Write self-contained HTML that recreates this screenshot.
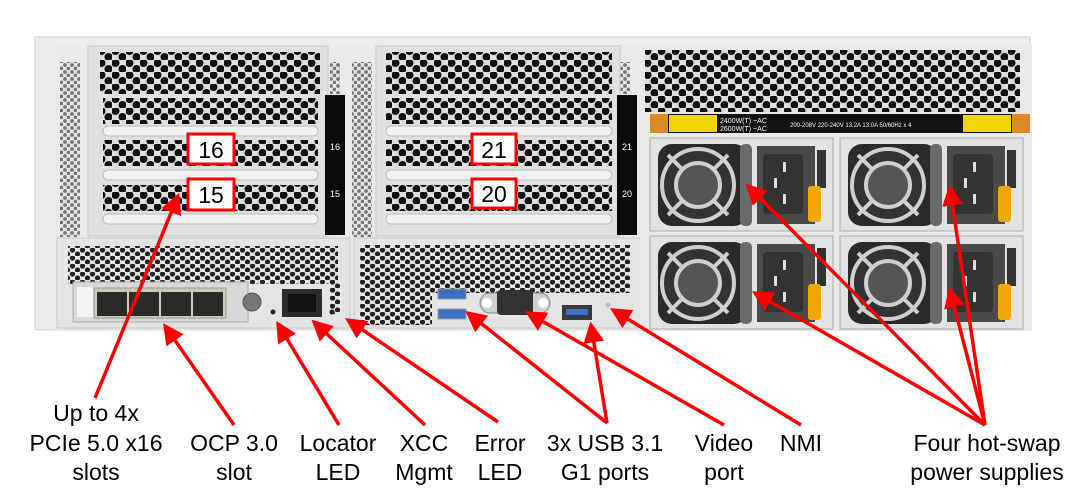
<!DOCTYPE html>
<html><head><meta charset="utf-8"><style>
html,body{margin:0;padding:0;background:#fff;width:1092px;height:504px;overflow:hidden}
svg{display:block}
text{font-family:"Liberation Sans",Arial,sans-serif}
</style></head><body>
<svg width="1092" height="504" viewBox="0 0 1092 504" xmlns="http://www.w3.org/2000/svg">
<defs>
<pattern id="hex" width="14" height="12" patternUnits="userSpaceOnUse">
<rect width="14" height="12" fill="#dedede"/>
<circle cx="3.5" cy="3" r="4" fill="#111"/><circle cx="10.5" cy="9" r="4" fill="#111"/>
</pattern>
<pattern id="hexs" width="10" height="8" patternUnits="userSpaceOnUse">
<rect width="10" height="8" fill="#e4e4e4"/>
<circle cx="2.5" cy="2" r="2.6" fill="#222"/><circle cx="7.5" cy="6" r="2.6" fill="#222"/>
</pattern>
<pattern id="col" width="7" height="7" patternUnits="userSpaceOnUse">
<rect width="7" height="7" fill="#e6e6e6"/>
<circle cx="2" cy="2" r="1.9" fill="#777"/><circle cx="5.5" cy="5.5" r="1.9" fill="#777"/>
</pattern>
<marker id="ah" markerWidth="6" markerHeight="6" refX="5" refY="3" orient="auto" markerUnits="strokeWidth">
<path d="M0,0 L6,3 L0,6 z" fill="#f00"/>
</marker>
<g id="psu">
<rect x="0" y="0" width="183" height="93" fill="#e2e2e2" stroke="#aaa"/>
<rect x="8" y="6" width="90" height="82" rx="14" fill="#2a2a2a"/>
<circle cx="48" cy="47" r="36" fill="#333" stroke="#cfcfcf" stroke-width="4"/>
<line x1="18" y1="17" x2="78" y2="77" stroke="#cfcfcf" stroke-width="4"/>
<line x1="78" y1="17" x2="18" y2="77" stroke="#cfcfcf" stroke-width="4"/>
<circle cx="48" cy="47" r="22" fill="#555" stroke="#cfcfcf" stroke-width="4"/>
<rect x="90" y="6" width="12" height="82" rx="5" fill="#6a6a6a"/>
<rect x="107" y="8" width="58" height="78" fill="#4a4a4a"/>
<rect x="113" y="16" width="40" height="60" rx="4" fill="#333"/>
<rect x="133" y="24" width="3" height="10" fill="#ddd"/><rect x="124" y="40" width="3" height="10" fill="#ddd"/><rect x="133" y="56" width="3" height="10" fill="#ddd"/>
<rect x="167" y="12" width="9" height="38" fill="#333"/>
<rect x="158" y="48" width="13" height="36" rx="3" fill="#f0a800"/>
</g>
</defs>

<rect x="35" y="37" width="995" height="293" fill="#ececec" stroke="#d0d0d0"/>
<rect x="55" y="45" width="975" height="285" fill="#e9e9e9"/>
<rect x="60" y="62" width="20" height="175" fill="url(#col)"/>
<rect x="352" y="62" width="20" height="175" fill="url(#col)"/>
<rect x="330" y="62" width="10" height="32" fill="url(#col)"/>
<rect x="620" y="62" width="10" height="32" fill="url(#col)"/>

<rect x="88" y="46" width="240" height="190" fill="#e0e0e0" stroke="#c8c8c8"/>
<rect x="100" y="52" width="220" height="42" fill="url(#hex)"/>
<rect x="103" y="98" width="215" height="26" fill="url(#hex)"/>
<rect x="103" y="140" width="215" height="26" fill="url(#hex)"/>
<rect x="103" y="185" width="215" height="26" fill="url(#hex)"/>
<rect x="103" y="126" width="215" height="10" rx="5" fill="#f2f2f2" stroke="#bbb"/>
<rect x="103" y="170" width="215" height="10" rx="5" fill="#f2f2f2" stroke="#bbb"/>
<rect x="103" y="214" width="215" height="10" rx="5" fill="#f2f2f2" stroke="#bbb"/>
<rect x="325" y="95" width="20" height="140" fill="#0a0a0a"/>
<text x="335" y="150" font-size="9" fill="#fff" text-anchor="middle">16</text>
<text x="335" y="197" font-size="9" fill="#fff" text-anchor="middle">15</text>

<rect x="376" y="46" width="244" height="190" fill="#e0e0e0" stroke="#c8c8c8"/>
<rect x="386" y="52" width="226" height="42" fill="url(#hex)"/>
<rect x="386" y="98" width="226" height="26" fill="url(#hex)"/>
<rect x="386" y="140" width="226" height="26" fill="url(#hex)"/>
<rect x="386" y="185" width="226" height="26" fill="url(#hex)"/>
<rect x="386" y="126" width="226" height="10" rx="5" fill="#f2f2f2" stroke="#bbb"/>
<rect x="386" y="170" width="226" height="10" rx="5" fill="#f2f2f2" stroke="#bbb"/>
<rect x="386" y="214" width="226" height="10" rx="5" fill="#f2f2f2" stroke="#bbb"/>
<rect x="617" y="95" width="20" height="140" fill="#0a0a0a"/>
<text x="627" y="150" font-size="9" fill="#fff" text-anchor="middle">21</text>
<text x="627" y="197" font-size="9" fill="#fff" text-anchor="middle">20</text>

<g font-size="23" text-anchor="middle" fill="#000">
<rect x="188" y="134" width="46" height="30" fill="#fff" stroke="#f00" stroke-width="3"/><text x="211" y="158">16</text>
<rect x="188" y="179" width="46" height="31" fill="#fff" stroke="#f00" stroke-width="3"/><text x="211" y="203">15</text>
<rect x="472" y="134" width="44" height="30" fill="#fff" stroke="#f00" stroke-width="3"/><text x="494" y="158">21</text>
<rect x="472" y="179" width="44" height="29" fill="#fff" stroke="#f00" stroke-width="3"/><text x="494" y="202">20</text>
</g>

<rect x="57" y="238" width="293" height="90" fill="#e4e4e4" stroke="#c8c8c8"/>
<rect x="68" y="246" width="270" height="38" fill="url(#hexs)"/>
<rect x="330" y="284" width="10" height="30" fill="url(#hexs)"/>
<rect x="73" y="282" width="175" height="40" fill="#d8d8d8" stroke="#aaa"/>
<rect x="77" y="287" width="16" height="30" fill="#f4f4f4"/>
<rect x="94" y="288" width="132" height="30" fill="#cfc9b8" stroke="#999"/>
<rect x="97" y="292" width="30" height="24" fill="#2b2b2b"/><rect x="129" y="292" width="30" height="24" fill="#2b2b2b"/>
<rect x="161" y="292" width="30" height="24" fill="#2b2b2b"/><rect x="193" y="292" width="30" height="24" fill="#2b2b2b"/>
<circle cx="252" cy="302" r="9" fill="#777" stroke="#555"/>
<rect x="282" y="289" width="40" height="28" fill="#2c2c2c"/>
<rect x="288" y="294" width="28" height="18" fill="#111"/>
<circle cx="273" cy="312" r="2.5" fill="#222"/><circle cx="332" cy="312" r="2.5" fill="#222"/>

<rect x="354" y="238" width="290" height="90" fill="#e4e4e4" stroke="#c8c8c8"/>
<rect x="360" y="245" width="270" height="48" fill="url(#hexs)"/>
<rect x="360" y="293" width="72" height="32" fill="url(#hexs)"/>
<rect x="438" y="289" width="28" height="10" fill="#3d6fc6" stroke="#999"/>
<rect x="438" y="309" width="28" height="10" fill="#3d6fc6" stroke="#999"/>
<rect x="480" y="293" width="70" height="20" rx="10" fill="#d0d0d0" stroke="#888"/>
<circle cx="487" cy="303" r="5" fill="#fff"/><circle cx="543" cy="303" r="5" fill="#fff"/>
<rect x="497" y="290" width="36" height="25" rx="4" fill="#333"/>
<rect x="562" y="305" width="30" height="15" fill="#3a3a3a"/><rect x="566" y="309" width="22" height="6" fill="#3d6fc6"/>
<circle cx="608" cy="305" r="2.5" fill="#bbb"/>

<rect x="640" y="45" width="392" height="285" fill="#e9e9e9"/>
<rect x="645" y="50" width="375" height="62" fill="url(#hex)"/>
<rect x="650" y="114" width="380" height="19" fill="#111"/>
<rect x="650" y="114" width="18" height="19" fill="#d98a2a"/><rect x="1012" y="114" width="18" height="19" fill="#d98a2a"/>
<rect x="669" y="115" width="48" height="17" fill="#f3d400"/><rect x="963" y="115" width="48" height="17" fill="#f3d400"/>
<text x="720" y="123" font-size="7" fill="#fff">2400W(T) ~AC</text>
<text x="720" y="131" font-size="7" fill="#fff">2600W(T) ~AC</text>
<text x="790" y="127" font-size="6" fill="#fff">200-208V 220-240V   13.2A 13.0A   50/60Hz  x 4</text>
<use href="#psu" x="650" y="138"/>
<use href="#psu" x="840" y="138"/>
<use href="#psu" x="650" y="236"/>
<use href="#psu" x="840" y="236"/>

<g stroke="#f00" stroke-width="3.5" fill="none" marker-end="url(#ah)">
<line x1="95" y1="398" x2="178" y2="196"/>
<line x1="234" y1="425" x2="165" y2="326"/>
<line x1="339" y1="425" x2="278" y2="324"/>
<line x1="425" y1="425" x2="314" y2="322"/>
<line x1="498" y1="422" x2="348" y2="320"/>
<line x1="607" y1="423" x2="468" y2="313"/>
<line x1="607" y1="423" x2="591" y2="325"/>
<line x1="724" y1="425" x2="528" y2="313"/>
<line x1="801" y1="425" x2="613" y2="310"/>
<line x1="985" y1="425" x2="748" y2="186"/>
<line x1="985" y1="425" x2="950" y2="188"/>
<line x1="985" y1="425" x2="755" y2="293"/>
<line x1="985" y1="425" x2="950" y2="290"/>
</g>

<g font-size="23" text-anchor="middle" fill="#000">
<text x="96" y="421">Up to 4x</text>
<text x="96" y="451">PCIe 5.0 x16</text>
<text x="96" y="480">slots</text>
<text x="234" y="451">OCP 3.0</text>
<text x="234" y="480">slot</text>
<text x="338" y="451">Locator</text>
<text x="338" y="480">LED</text>
<text x="424" y="451">XCC</text>
<text x="424" y="480">Mgmt</text>
<text x="500" y="451">Error</text>
<text x="500" y="480">LED</text>
<text x="605" y="451">3x USB 3.1</text>
<text x="605" y="480">G1 ports</text>
<text x="724" y="451">Video</text>
<text x="724" y="480">port</text>
<text x="801" y="451">NMI</text>
<text x="987" y="451">Four hot-swap</text>
<text x="987" y="480">power supplies</text>
</g>
</svg>
</body></html>
